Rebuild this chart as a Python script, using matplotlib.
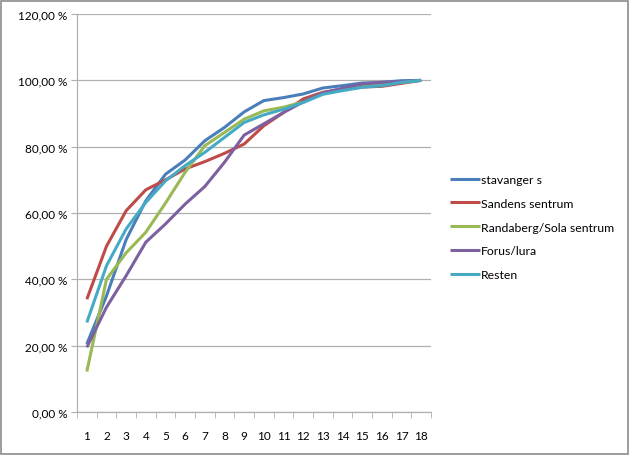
import numpy as np
import matplotlib
matplotlib.use('Agg')
import matplotlib.pyplot as plt
from matplotlib.ticker import FuncFormatter, FixedLocator
from matplotlib.patches import Rectangle

# Data (cumulative share, %)
steps = list(range(1, 19))
stavanger = [20.5, 35, 52, 63.7, 71.7, 76, 81.8, 85.8, 90.5, 93.9, 94.8, 95.9, 97.7, 98.4, 99.2, 99.4, 99.9, 100]
sandens = [34, 50, 60.7, 67, 70, 73.3, 75.5, 78, 80.8, 86.3, 90.3, 94.4, 96.4, 97.4, 98, 98.2, 99.1, 100]
randaberg = [12.2, 40, 48, 54.2, 63, 72.3, 80.3, 84.3, 88.3, 90.8, 91.9, 93.5, 96, 97.4, 98.4, 98.9, 99.4, 100]
forus = [19.5, 31.6, 41.1, 51.2, 56.7, 62.7, 68, 75.3, 83.5, 86.9, 90.3, 93.5, 96.2, 97.6, 98.9, 99.4, 99.6, 100]
resten = [27, 44.1, 55.2, 63.2, 69.7, 74.3, 78.3, 82.8, 87.3, 89.6, 91.3, 93.3, 95.8, 96.9, 97.9, 98.4, 99.4, 100]

series = [
    ('stavanger s', stavanger, '#4A7EBB'),
    ('Sandens sentrum', sandens, '#BE4B48'),
    ('Randaberg/Sola sentrum', randaberg, '#98B954'),
    ('Forus/lura', forus, '#7D60A0'),
    ('Resten', resten, '#46AAC5'),
]

plt.rcParams['font.family'] = ['Lato', 'DejaVu Sans']

fig = plt.figure(figsize=(6.29, 4.56), dpi=100)
ax = fig.add_axes([0.1224, 0.0943, 0.5628, 0.8727])

for name, vals, col in series:
    ax.plot(steps, vals, color=col, linewidth=2.2, label=name, solid_capstyle='butt')

ax.set_xlim(0.5, 18.5)
ax.set_ylim(0, 120)
ax.set_yticks(np.arange(0, 121, 20))
ax.yaxis.set_major_formatter(FuncFormatter(lambda v, p: f'{v:.2f}'.replace('.', ',') + ' %'))
ax.grid(axis='y', color='#B0B0B0', linewidth=0.9)
ax.set_axisbelow(True)

ax.set_xticks(steps)
ax.set_xticklabels([str(s) for s in steps])
ax.xaxis.set_minor_locator(FixedLocator(np.arange(0.5, 18.6, 1)))
ax.tick_params(axis='x', which='major', length=0, pad=13, labelsize=8.5)
ax.tick_params(axis='x', which='minor', length=4, color='#B0B0B0', direction='out')
ax.tick_params(axis='y', length=4, color='#B0B0B0', labelsize=8.5, pad=3)

for s in ['top', 'right']:
    ax.spines[s].set_visible(False)
for s in ['left', 'bottom']:
    ax.spines[s].set_color('#B0B0B0')
    ax.spines[s].set_linewidth(0.9)

ax.legend(loc='center left', bbox_to_anchor=(0.708, 0.5), bbox_transform=fig.transFigure,
          frameon=False, fontsize=8.8, handlelength=2.4, handletextpad=0.1,
          labelspacing=1.05, borderaxespad=0)

fig.patches.append(Rectangle((0.002, 0.002), 0.996, 0.994, transform=fig.transFigure,
                             fill=False, edgecolor='#8C8C8C', linewidth=1.2))

fig.savefig('out.png', dpi=100)
